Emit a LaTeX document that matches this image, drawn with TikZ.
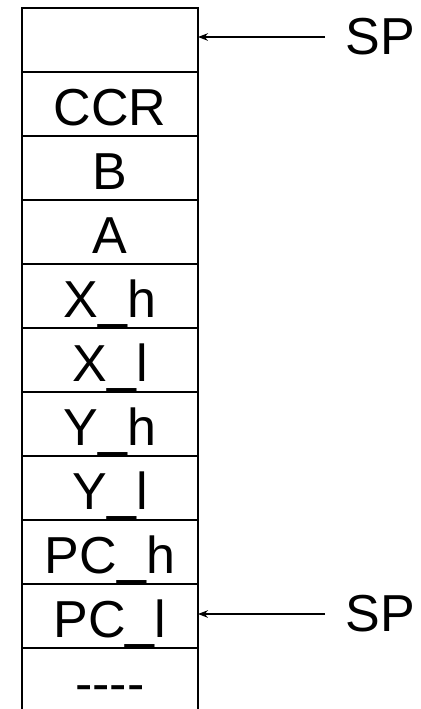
\documentclass[tikz,border=0pt]{standalone}
\usepackage{fontspec}
\setmainfont{Liberation Sans}
\usetikzlibrary{positioning,arrows.meta}
\tikzset{
  stk/cell/.style ={draw=black, line width=1pt, minimum width=88pt,
                    minimum height=32pt, inner sep=0pt, outer sep=0pt,
                    font=\fontsize{26}{30}\selectfont,
                    text height=23.9pt, text depth=2.6pt},
  stk/ptr/.style  ={-{Stealth[length=5pt, width=3.8pt]}, line width=0.6pt},
  stk/label/.style={font=\fontsize{26}{30}\selectfont, anchor=west,
                    inner xsep=10pt, inner ysep=0pt}
}
\begin{document}
\begin{tikzpicture}[x=0.5pt, y=-0.5pt]
    \useasboundingbox (0,0) rectangle (421,709);
    % the stack, top cell empty
    \node[stk/cell] (c0) at (110,40) {};
    \foreach \txt [count=\i, remember=\i as \j (initially 0)] in
        {CCR, B, A, X\_h, X\_l, Y\_h, Y\_l, PC\_h, PC\_l, {-}{-}{-}{-}} {
      \node[stk/cell, below=0pt of c\j] (c\i) {\txt};
    }
    % stack pointer, before and after
    \node[stk/label] (sptop) at (325,37)  {SP};
    \node[stk/label] (spbot) at (325,614) {SP};
    \draw[stk/ptr] (sptop.west) -- (sptop.west -| c0.east);
    \draw[stk/ptr] (spbot.west) -- (spbot.west -| c9.east);
\end{tikzpicture}
\end{document}
